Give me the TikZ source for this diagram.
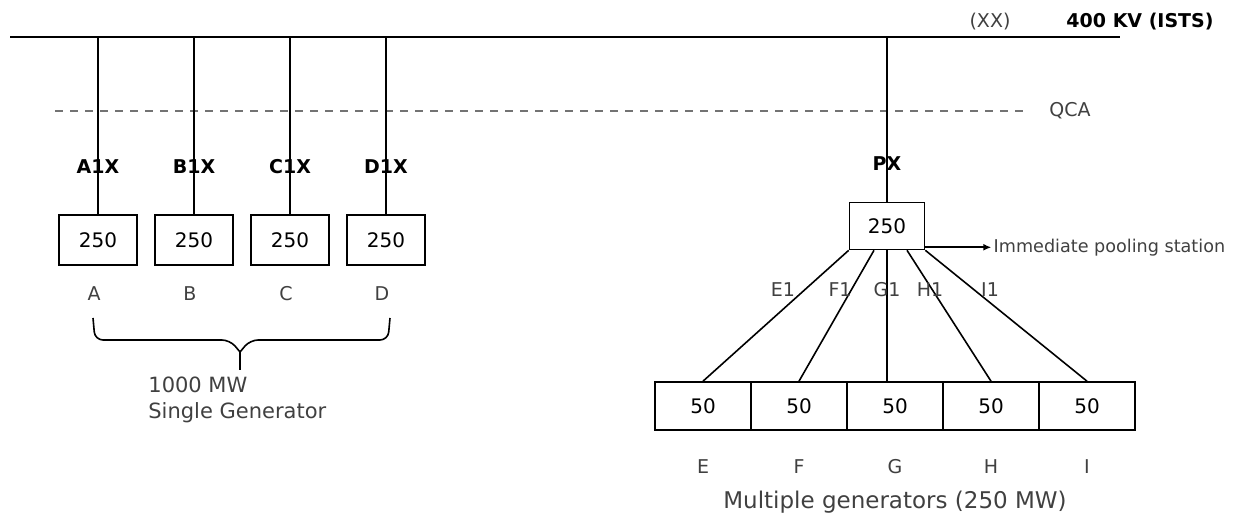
\documentclass[tikz,border=0pt]{standalone}
\usepackage{fontspec}
\setmainfont{DejaVu Sans}
\usetikzlibrary{arrows.meta}
\begin{document}
\begin{tikzpicture}[x=0.5pt,y=-0.5pt,node distance=48pt,
        wire/.style={line width=0.8pt},
        gen/.style={draw,line width=0.8pt,minimum width=39pt,minimum height=25pt,inner sep=0pt,font=\fontsize{10}{12}\selectfont},
        cell/.style={draw,line width=0.8pt,minimum width=48pt,minimum height=24pt,inner sep=0pt,font=\fontsize{10}{12}\selectfont},
        tag/.style={font=\bfseries\fontsize{9.5}{11}\selectfont},
        lbl/.style={text=black!75,font=\fontsize{9.5}{11}\selectfont}]
        \useasboundingbox (0,0) rectangle (1236,517);
        % bus and QCA line
        \coordinate (busW) at (10,37);
        \coordinate (busE) at (1120,37);
        \draw[wire] (busW) -- (busE);
        \path (990,22) node[lbl] (XX) {(XX)};
        \path (1140,22) node[tag] (ISTS) {400 KV (ISTS)};
        \coordinate (qcaW) at (55,111);
        \coordinate (qcaE) at (1025,111);
        \draw[black!55,line width=1pt,dash pattern=on 4pt off 3.5pt] (qcaW) -- (qcaE);
        \path (1070,111) node[lbl] (QCA) {QCA};
        % single generator
        \path (98,240) node[gen] (A) {250};
        \path node[gen,right of=A] (B) {250};
        \path node[gen,right of=B] (C) {250};
        \path node[gen,right of=C] (D) {250};
        \foreach \g in {A,B,C,D} {
                \draw[wire] (\g.north |- busW) -- (\g.north);
                \path (\g.north) ++(0,-48) node[tag] (\g1X) {\g1X};
                \path (\g.south) ++(-4,28) node[lbl] (\g L) {\g};
        }
        \draw[wire,rounded corners=4pt] (93,318) -- (95,340) -- (230,340) -- (240,352);
        \draw[wire,rounded corners=4pt] (390,318) -- (388,340) -- (250,340) -- (240,352);
        \draw[wire] (240,352) -- (240,370);
        \path (148,377) node[lbl,anchor=north west,align=left,inner sep=0pt,font=\fontsize{10.5}{13}\selectfont] (single) {1000 MW\\Single Generator};
        % pooling station
        \path (887,226) node[gen,minimum width=37.5pt,minimum height=23.5pt] (P) {250};
        \draw[wire] (P.north |- busE) -- (P.north);
        \path (P.north) ++(0,-38) node[tag] (PX) {PX};
        \draw[wire,-{Latex[length=4pt,width=3.5pt]}] ([yshift=1.5pt]P.south east) -- ++(66,0) coordinate (pool);
        \path (pool) node[lbl,anchor=west,inner sep=1pt,font=\fontsize{8.8}{10}\selectfont] (imm) {Immediate pooling station};
        % multiple generators
        \path (703,406) node[cell] (E) {50};
        \path node[cell,right of=E] (F) {50};
        \path node[cell,right of=F] (G) {50};
        \path node[cell,right of=G] (H) {50};
        \path node[cell,right of=H] (I) {50};
        \draw[wire] (P.south west) -- (E.north);
        \draw[wire] ([xshift=-6.5pt]P.south) -- (F.north);
        \draw[wire] (P.south) -- (P.south |- G.north);
        \draw[wire] ([xshift=10pt]P.south) -- (H.north);
        \draw[wire] (P.south east) -- (I.north);
        \foreach \n/\x in {E1/783,F1/840,G1/887,H1/930,I1/990}
                \path (\x,290) node[lbl] (\n) {\n};
        \foreach \g in {E,F,G,H,I}
                \path (\g.south) ++(0,36) node[lbl] (\g L) {\g};
        \path (G.south) ++(0,71) node[lbl,font=\fontsize{11.5}{13}\selectfont] (multi) {Multiple generators (250 MW)};
\end{tikzpicture}
\end{document}
